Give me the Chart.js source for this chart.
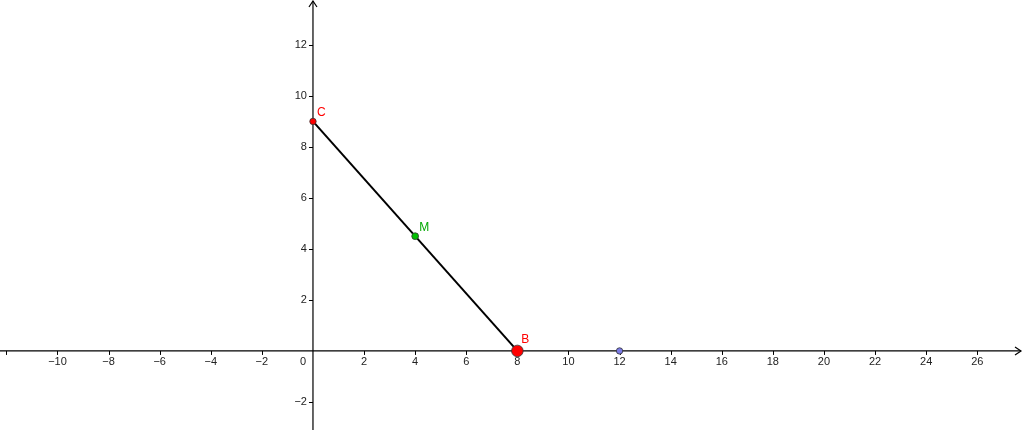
<!DOCTYPE html>
<html>
<head>
<meta charset="utf-8">
<script src="https://cdn.jsdelivr.net/npm/chart.js@4/dist/chart.umd.min.js"></script>
<style>
  html, body { margin: 0; padding: 0; background: #fff; overflow: hidden; }
  #wrap { width: 1024px; height: 430px; }
</style>
</head>
<body>
<div id="wrap"><canvas id="plot"></canvas></div>
<script>
// ===== DATA =====
const pointNames = ["C", "M", "B", ""];
const pointX = [0, 4, 8, 12];
const pointY = [9, 4.5, 0, 0];
const pointColors = ["#ff0000", "#00c000", "#ff0000", "#7b7be6"];
const labelColors = ["#ff0000", "#00a800", "#ff0000", "#000"];
const pointSizes = [3.2, 3.4, 5.8, 3.2];

// segment C -> B
const segment = [{ x: 0, y: 9 }, { x: 8, y: 0 }];

const xTicks = [-12, -10, -8, -6, -4, -2, 2, 4, 6, 8, 10, 12, 14, 16, 18, 20, 22, 24, 26];
const xTickLabels = ["", "−10", "−8", "−6", "−4", "−2", "2", "4", "6", "8", "10", "12", "14", "16", "18", "20", "22", "24", "26"];
const yTicks = [-2, 2, 4, 6, 8, 10, 12];
const yTickLabels = ["−2", "2", "4", "6", "8", "10", "12"];

// view window
const xMin = -12.25, xMax = 27.83;
const yMin = -3.1, yMax = 13.76;

// ===== AXES PLUGIN =====
const axesPlugin = {
    id: "geoAxes",
    beforeDatasetsDraw(chart) {
        const ctx = chart.ctx;
        const xs = chart.scales.x;
        const ys = chart.scales.y;
        const ox = xs.getPixelForValue(0);
        const oy = ys.getPixelForValue(0);
        const left = chart.chartArea.left, right = chart.chartArea.right;
        const top = chart.chartArea.top, bottom = chart.chartArea.bottom;

        ctx.save();
        ctx.strokeStyle = "#000";
        ctx.lineWidth = 1.2;

        // axis lines
        ctx.beginPath();
        ctx.moveTo(left, oy); ctx.lineTo(right - 3, oy);
        ctx.moveTo(ox, bottom); ctx.lineTo(ox, top + 1);
        ctx.stroke();

        // arrows
        ctx.beginPath();
        ctx.moveTo(right - 9, oy - 4); ctx.lineTo(right - 3, oy); ctx.lineTo(right - 9, oy + 4);
        ctx.moveTo(ox - 4, top + 7); ctx.lineTo(ox, top + 1); ctx.lineTo(ox + 4, top + 7);
        ctx.stroke();

        // ticks
        ctx.lineWidth = 1;
        ctx.beginPath();
        xTicks.forEach((v) => {
            const px = Math.round(xs.getPixelForValue(v)) + 0.5;
            ctx.moveTo(px, oy); ctx.lineTo(px, oy + 4);
        });
        yTicks.forEach((v) => {
            const py = Math.round(ys.getPixelForValue(v)) + 0.5;
            ctx.moveTo(ox - 4, py); ctx.lineTo(ox, py);
        });
        ctx.stroke();

        // tick labels
        ctx.fillStyle = "#222";
        ctx.font = "11px 'Liberation Sans', Arial, sans-serif";
        ctx.textAlign = "center";
        ctx.textBaseline = "middle";
        xTicks.forEach((v, i) => {
            if (!xTickLabels[i]) return;
            ctx.fillText(xTickLabels[i], xs.getPixelForValue(v), oy + 11);
        });
        ctx.fillText("0", ox - 10, oy + 11);
        ctx.textAlign = "right";
        yTicks.forEach((v, i) => {
            ctx.fillText(yTickLabels[i], ox - 6, ys.getPixelForValue(v));
        });
        ctx.restore();
    },
    afterDatasetsDraw(chart) {
        const ctx = chart.ctx;
        const xs = chart.scales.x;
        const ys = chart.scales.y;
        ctx.save();
        ctx.font = "12px 'Liberation Sans', Arial, sans-serif";
        ctx.textAlign = "left";
        ctx.textBaseline = "alphabetic";
        pointNames.forEach((name, i) => {
            if (!name) return;
            const px = xs.getPixelForValue(pointX[i]);
            const py = ys.getPixelForValue(pointY[i]);
            const dy = i === 2 ? -8 : -5;
            ctx.fillStyle = labelColors[i];
            ctx.fillText(name, px + 4, py + dy);
        });
        ctx.restore();
    }
};

// ===== CHART =====
const pointData = pointX.map((x, i) => ({ x, y: pointY[i] }));

new Chart(document.getElementById("plot"), {
    type: "scatter",
    data: {
        datasets: [
            {
                data: segment,
                showLine: true,
                borderColor: "#000",
                borderWidth: 2,
                pointRadius: 0,
                fill: false,
                order: 2,
            },
            {
                data: pointData,
                pointRadius: pointSizes,
                pointBackgroundColor: pointColors,
                pointBorderColor: "#333",
                pointBorderWidth: 0.8,
                showLine: false,
                order: 1,
            },
        ],
    },
    options: {
        responsive: true,
        maintainAspectRatio: false,
        animation: false,
        layout: { padding: 0, autoPadding: false },
        plugins: {
            legend: { display: false },
            tooltip: { enabled: false },
        },
        scales: {
            x: { type: "linear", min: xMin, max: xMax, display: false },
            y: { type: "linear", min: yMin, max: yMax, display: false },
        },
    },
    plugins: [axesPlugin],
});
</script>
</body>
</html>
